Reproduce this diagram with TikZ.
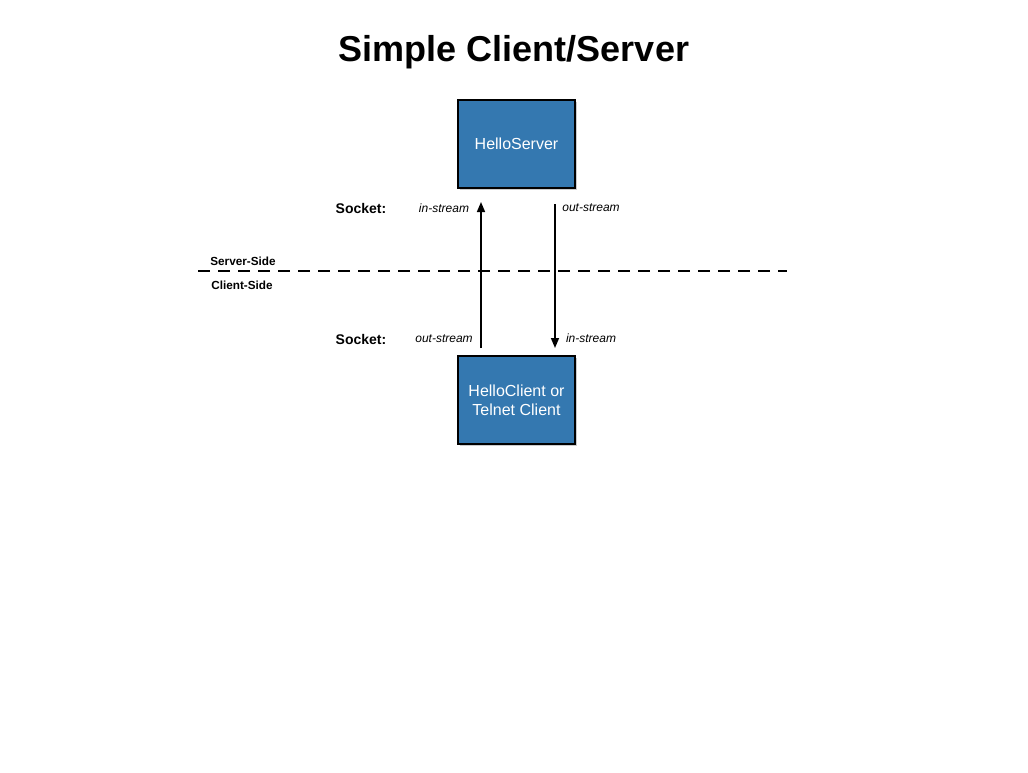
\documentclass[tikz,border=0pt]{standalone}
\usepackage{fontspec}
\setmainfont{Liberation Sans}
\usetikzlibrary{shadows}
\usetikzlibrary{positioning}
\usetikzlibrary{arrows.meta}
\definecolor{boxblue}{RGB}{52,120,176}
\tikzset{bx/.style={rectangle,draw=black,line width=1.5pt,fill=boxblue,text=white,align=center,
    minimum width=88pt,minimum height=66pt,font=\fontsize{12}{14}\selectfont,
    drop shadow={shadow xshift=1.5pt,shadow yshift=-1.5pt,opacity=0.4}},
  sock/.style={font=\bfseries\fontsize{10.5}{12}\selectfont},
  strm/.style={font=\itshape\fontsize{9}{10}\selectfont},
  side/.style={font=\bfseries\fontsize{8.8}{10}\selectfont},
  flow/.style={line width=1.2pt,-{Triangle[length=7.5pt,width=6pt]}}}

\begin{document}
\begin{tikzpicture}[x=0.75pt,y=-0.75pt]
  \useasboundingbox (0,0) rectangle (1028,772);

  \node[font=\bfseries\fontsize{27}{30}\selectfont] (title) at (514,52) {Simple Client/Server};

  \node[bx] (server) at (516.5,144) {HelloServer};
  \node[bx] (client) at (516.5,400) {HelloClient or\\Telnet Client};

  % socket endpoints
  \coordinate (s_in) at (481,202);
  \coordinate (c_out) at (481,348);
  \coordinate (s_out) at (555,204);
  \coordinate (c_in) at (555,348);

  \draw[flow] (c_out) -- (s_in);
  \draw[flow] (s_out) -- (c_in);

  % server/client divide
  \coordinate (divL) at (198,271);
  \coordinate (divR) at (787,271);
  \draw[line width=1.2pt,dash pattern=on 9pt off 6pt] (divL) -- (divR);
  \node[side] (srvside) at (243,261) {Server-Side};
  \node[side] (clside) at (242,285) {Client-Side};

  \node[sock] (socktop) at (361,208) {Socket:};
  \node[sock] (sockbot) at (361,339) {Socket:};
  \node[strm] (instrA) at (444,208) {in-stream};
  \node[strm] (outstrA) at (591,208) {out-stream};
  \node[strm] (outstrB) at (444,339) {out-stream};
  \node[strm] (instrB) at (591,338) {in-stream};
\end{tikzpicture}
\end{document}
